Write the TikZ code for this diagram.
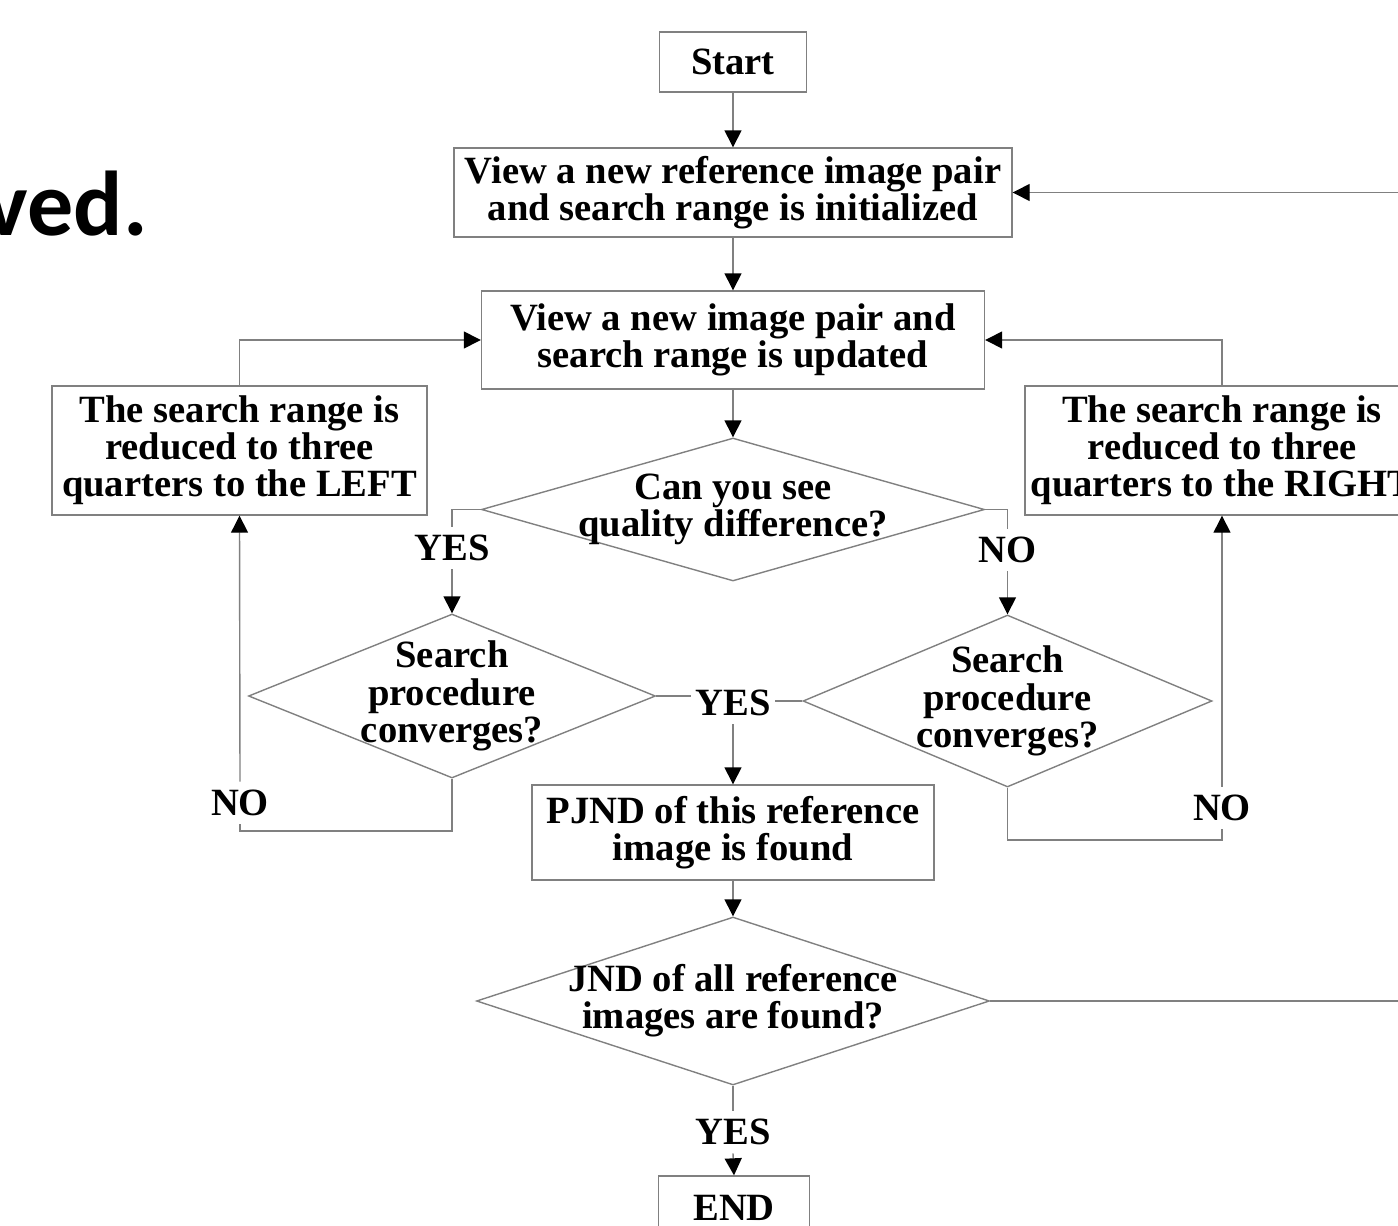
\documentclass[tikz,border=0pt]{standalone}
\usepackage{fontspec}
\setmainfont{Liberation Serif}
\newfontfamily\slidefont{Carlito}
\usetikzlibrary{shapes.geometric,arrows.meta}
\tikzset{
  box/.style={draw=gray, line width=0.7pt, inner sep=0pt, align=center, font=\fontsize{19.3}{18.6}\selectfont\bfseries},
  dia/.style={draw=gray, line width=0.7pt, diamond, inner sep=0pt},
  txt/.style={align=center, inner sep=0pt, font=\fontsize{19.3}{18.6}\selectfont\bfseries},
  lbl/.style={inner xsep=2pt, inner ysep=4pt, font=\fontsize{19.3}{18.6}\selectfont\bfseries},
  ln/.style={draw=gray, line width=0.7pt},
  arr/.style={ln, -{Triangle[length=8.5pt,width=8.5pt,black]}}
}
\begin{document}
\begin{tikzpicture}[x=0.5pt, y=-0.5pt]
    \useasboundingbox (0,0) rectangle (1398,1226);
    \clip (0,0) rectangle (1398,1226);

    %slide text
    \node[anchor=base east, inner sep=0pt, font=\slidefont\fontsize{46}{46}\selectfont\bfseries] (slide) at (148,235) {ved.};

    %boxes
    \node[box, minimum width=73.5pt, minimum height=30pt] (start) at (733,62) {Start};
    \node[box, minimum width=279pt, minimum height=44.5pt] (init) at (733,192.5) {View a new reference image pair\\and search range is initialized};
    \node[box, minimum width=251.5pt, minimum height=49pt] (upd) at (733,340) {View a new image pair and\\search range is updated};
    \node[box, minimum width=187.5pt, minimum height=64.5pt] (left) at (239.5,450.5) {The search range is\\reduced to three\\quarters to the LEFT};
    \node[box, minimum width=197pt, minimum height=64.5pt] (right) at (1222,450.5) {The search range is\\reduced to three\\quarters to the RIGHT};
    \node[box, minimum width=201pt, minimum height=47.5pt] (pjnd) at (733,832.5) {PJND of this reference\\image is found};
    \node[box, minimum width=75.5pt, minimum height=32pt] (end) at (734,1208) {END};

    %decisions
    \node[dia, minimum width=251.5pt, minimum height=71.5pt] (see) at (733,509.5) {};
    \node[txt] (seet) at (see) {Can you see\\quality difference?};
    \node[dia, minimum width=203.5pt, minimum height=82pt] (convl) at (452,696) {};
    \node[txt] (convlt) at (convl) {Search\\procedure\\converges?};
    \node[dia, minimum width=204.5pt, minimum height=86pt] (convr) at (1007.5,701) {};
    \node[txt] (convrt) at (convr) {Search\\procedure\\converges?};
    \node[dia, minimum width=256.5pt, minimum height=84pt] (all) at (733,1001) {};
    \node[txt] (allt) at (all) {JND of all reference\\images are found?};

    %labels
    \node[lbl] (yes1) at (452,548) {YES};
    \node[lbl] (no1) at (1007.5,550) {NO};
    \node[lbl] (yesm) at (733,703) {YES};
    \node[lbl] (nol) at (240,803) {NO};
    \node[lbl] (nor) at (1222,808) {NO};
    \node[lbl] (yesb) at (733,1132) {YES};
    \coordinate (cl) at (240,831);
    \coordinate (cr) at (1222,840);
    \coordinate (back) at (1420,1001);

    %main line
    \draw[arr] (start) -- (init);
    \draw[arr] (init) -- (upd);
    \draw[arr] (upd) -- (see);
    \draw[ln] (see.west) -| (yes1.north);
    \draw[arr] (yes1.south) -- (convl.north);
    \draw[ln] (see.east) -| (no1.north);
    \draw[arr] (no1.south) -- (convr.north);
    \draw[ln] (convl.east) -- (convl.east -| yesm.west);
    \draw[ln] (convr.west) -- (convr.west -| yesm.east);
    \draw[arr] (yesm.south) -- (pjnd.north);
    \draw[arr] (pjnd) -- (all);
    \draw[ln] (all.south) -- (yesb.north);
    \draw[arr] (yesb.south) -- (end.north);

    %loops
    \draw[ln] (convl.south) |- (cl) -- (nol.south);
    \draw[arr] (nol.north) -- (left.south);
    \draw[arr] (left.north) |- (upd.west);
    \draw[ln] (convr.south) |- (cr) -- (nor.south);
    \draw[arr] (nor.north) -- (right.south);
    \draw[arr] (right.north) |- (upd.east);
    \draw[arr] (all.east) -- (back) |- (init.east);
\end{tikzpicture}
\end{document}
